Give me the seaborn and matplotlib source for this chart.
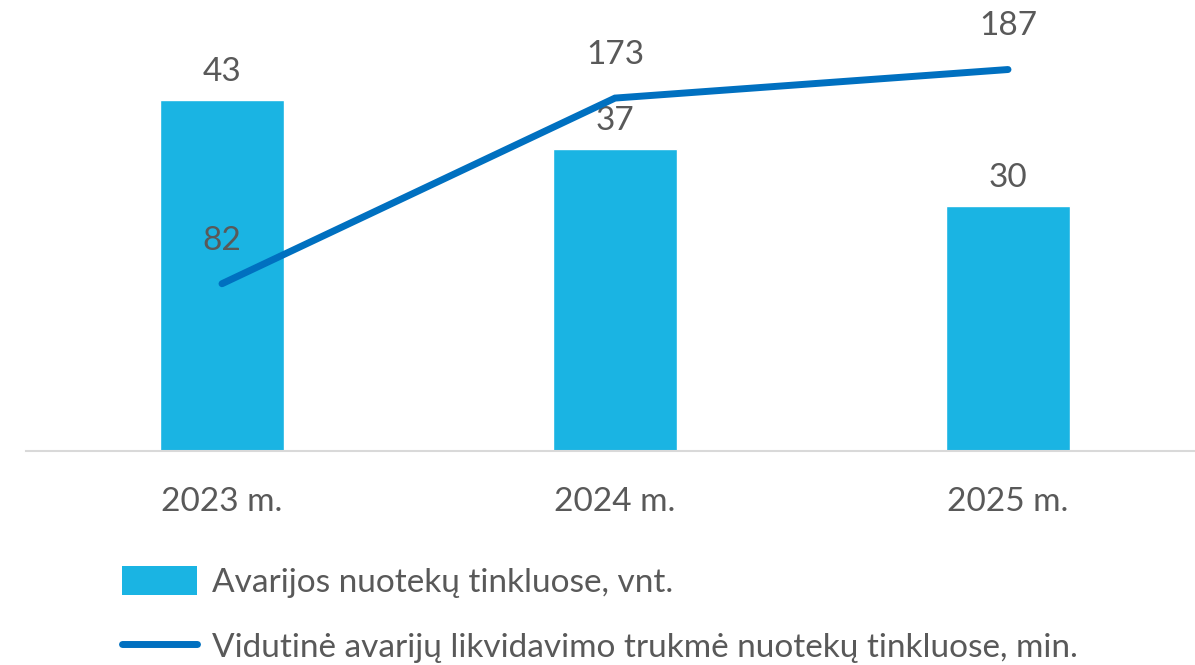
import matplotlib
matplotlib.use("Agg")
import matplotlib.pyplot as plt
import seaborn as sns
import pandas as pd
import numpy as np
from matplotlib.patches import Patch
from matplotlib.lines import Line2D

categories = ["2023 m.", "2024 m.", "2025 m."]
avarijos = [43, 37, 30]
trukme = [82, 173, 187]
bar_label = "Avarijos nuotekų tinkluose, vnt."
line_label = "Vidutinė avarijų likvidavimo trukmė nuotekų tinkluose, min."

BAR_COLOR = "#1ab4e3"
LINE_COLOR = "#0070c0"
TEXT_COLOR = "#595959"
FS = 24

sns.set_theme(style="white")
plt.rcParams["font.family"] = ["Lato", "DejaVu Sans"]

df = pd.DataFrame({"cat": categories, "avarijos": avarijos, "trukme": trukme})

W, H = 1195, 665
fig = plt.figure(figsize=(W / 100, H / 100), dpi=100)
ax = fig.add_axes([25.5 / W, (H - 451) / H, 1179 / W, 408 / H])

sns.barplot(data=df, x="cat", y="avarijos", color=BAR_COLOR, width=0.313,
            saturation=1, ax=ax)
ax.set_ylim(0, 50)
ax.set_xlim(-0.5, 2.5)

ax2 = ax.twinx()
sns.lineplot(x=np.arange(len(categories)), y=df["trukme"], color=LINE_COLOR,
             linewidth=5, ax=ax2, solid_capstyle="round", solid_joinstyle="miter")
ax2.set_ylim(0, 200)

for a in (ax, ax2):
    a.set_yticks([])
    a.set_ylabel("")
    a.set_xlabel("")
    for s in ("top", "right", "left", "bottom"):
        a.spines[s].set_visible(False)
ax.spines["bottom"].set_visible(True)
ax.spines["bottom"].set_color("#d9d9d9")
ax.spines["bottom"].set_linewidth(1.5)

ax.tick_params(axis="x", length=0, pad=26, labelsize=FS, labelcolor=TEXT_COLOR)

for i, v in enumerate(avarijos):
    ax.annotate(str(v), (i, v), xytext=(0, 20), textcoords="offset points",
                ha="center", va="center", fontsize=FS, color=TEXT_COLOR)
for i, v in enumerate(trukme):
    ax2.annotate(str(v), (i, v), xytext=(0, 31), textcoords="offset points",
                 ha="center", va="center", fontsize=FS, color=TEXT_COLOR)

handles = [Patch(facecolor=BAR_COLOR, edgecolor="none"),
           Line2D([0], [0], color=LINE_COLOR, linewidth=5, solid_capstyle="round")]
fig.legend(handles, [bar_label, line_label], loc="upper left",
           bbox_to_anchor=(109 / W, 1 - 553 / H), frameon=False,
           fontsize=FS, labelcolor=TEXT_COLOR, handlelength=2.25, handleheight=0.95,
           handletextpad=0.45, labelspacing=0.98, borderaxespad=0)

fig.savefig("out.png", dpi=100)
